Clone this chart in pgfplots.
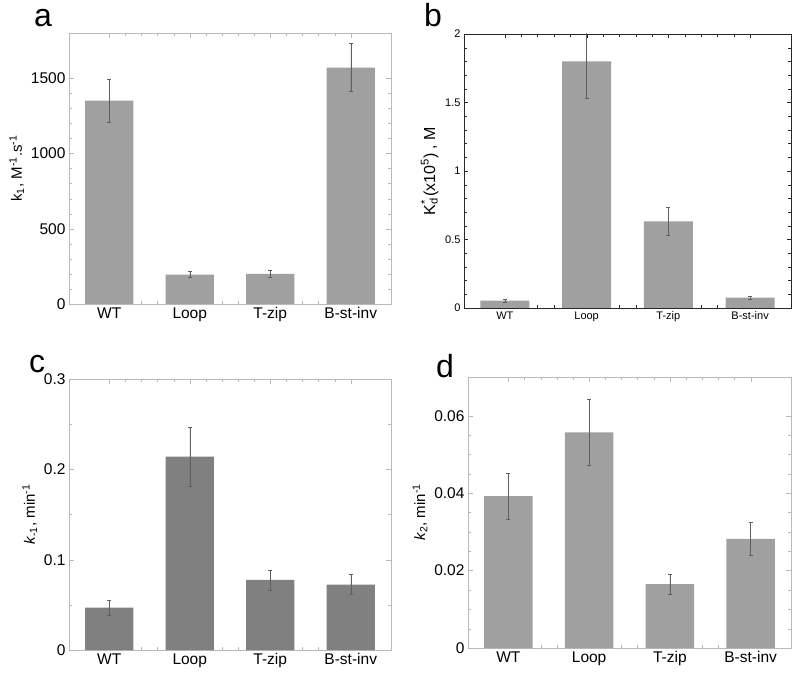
\documentclass[border=0pt]{standalone}
\usepackage{fontspec}
\setmainfont{Liberation Sans}
\usepackage{pgfplots}
\pgfplotsset{compat=1.18}

\definecolor{barA}{RGB}{160,160,160}
\definecolor{barC}{RGB}{128,128,128}
\definecolor{frameL}{RGB}{185,185,185}
\definecolor{frameD}{RGB}{40,40,40}
\definecolor{errc}{RGB}{95,95,95}

\pgfplotsset{
  panel/.style={
    scale only axis, width=322pt, height=271pt, anchor=south west,
    xmin=0.5, xmax=4.5, xtick={1,2,3,4}, xticklabels={WT,Loop,T-zip,B-st-inv},
    minor x tick num=4,
    tick align=inside, xtick pos=both, ytick pos=both,
    major tick length=5pt, minor tick length=3pt,
    axis line style={frameL}, tick style={frameL},
    ticklabel style={font=\fontsize{15.5}{18}\selectfont, text=black},
    label style={font=\fontsize{15}{18}\selectfont},
    /pgf/number format/assume math mode=true,
    scaled y ticks=false,
    ymin=0, clip=true,
  },
  bars/.style={
    ybar, bar width=0.6, draw=none,
    error bars/y dir=both, error bars/y explicit,
    error bars/error bar style={errc, line width=0.5pt},
    error bars/error mark options={rotate=90, mark size=2pt, errc, line width=0.5pt},
  },
}

\begin{document}
\begin{tikzpicture}
\path[use as bounding box] (0pt,0pt) rectangle (800pt,672pt);

% panel a
\begin{axis}[panel, at={(69pt,368pt)}, ymax=1800,
  ytick={0,500,1000,1500}, yticklabels={0,500,1000,1500}, minor y tick num=4,
  ylabel={k\textsubscript{1}, M\textsuperscript{-1}.s\textsuperscript{-1}}]
\addplot[bars, fill=barA] coordinates {
  (1,1350) +- (0,140)
  (2,195) +- (0,20)
  (3,200) +- (0,25)
  (4,1570) +- (0,160)
};
\end{axis}

% panel b
\begin{axis}[panel, width=327pt, height=274pt, at={(464pt,364pt)}, ymax=2,
  axis line style={frameD}, tick style={frameD},
  ticklabel style={font=\fontsize{11}{13}\selectfont, text=black},
  major tick length=4pt, minor tick length=3pt,
  ytick={0,0.5,1,1.5,2}, yticklabels={0,0.5,1,1.5,2}, minor y tick num=4,
  ylabel={\fontsize{16}{18}\selectfont K\rlap{\textsubscript{d}}\textsuperscript{*}\,(x10\textsuperscript{5}) , M}]
\addplot[bars, fill=barA] coordinates {
  (1,0.053) +- (0,0.012)
  (2,1.80) +- (0,0.27)
  (3,0.632) +- (0,0.10)
  (4,0.075) +- (0,0.012)
};
\end{axis}

% panel c
\begin{axis}[panel, at={(69pt,22pt)}, ymax=0.3,
  ytick={0,0.1,0.2,0.3}, yticklabels={0,0.1,0.2,0.3}, minor y tick num=1,
  ylabel={\textit{k}\textsubscript{-1}, min\textsuperscript{-1}}]
\addplot[bars, fill=barC] coordinates {
  (1,0.047) +- (0,0.008)
  (2,0.214) +- (0,0.033)
  (3,0.0775) +- (0,0.011)
  (4,0.0725) +- (0,0.011)
};
\end{axis}

% panel d
\begin{axis}[panel, width=323pt, at={(468pt,24pt)}, ymax=0.07,
  ytick={0,0.02,0.04,0.06}, yticklabels={0,0.02,0.04,0.06}, minor y tick num=3,
  ylabel={\textit{k}\textsubscript{2}, min\textsuperscript{-1}}]
\addplot[bars, fill=barA] coordinates {
  (1,0.0392) +- (0,0.006)
  (2,0.0557) +- (0,0.0085)
  (3,0.0165) +- (0,0.0026)
  (4,0.0282) +- (0,0.0042)
};
\end{axis}

\node[anchor=base west, inner sep=0pt, font=\fontsize{32}{36}\selectfont] at (34pt,645pt) {a};
\node[anchor=base west, inner sep=0pt, font=\fontsize{32}{36}\selectfont] at (424pt,645pt) {b};
\node[anchor=base west, inner sep=0pt, font=\fontsize{32}{36}\selectfont] at (29pt,299pt) {c};
\node[anchor=base west, inner sep=0pt, font=\fontsize{32}{36}\selectfont] at (436pt,294pt) {d};
\end{tikzpicture}
\end{document}
